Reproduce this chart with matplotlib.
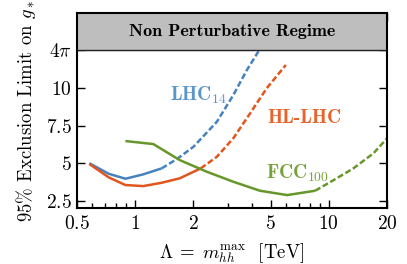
import numpy as np
import matplotlib
matplotlib.use('Agg')
import matplotlib.pyplot as plt
from matplotlib.ticker import FixedLocator, FixedFormatter, NullFormatter

plt.rcParams['font.family'] = ['cmr10']
plt.rcParams['mathtext.fontset'] = 'cm'
plt.rcParams['axes.formatter.use_mathtext'] = True

# LHC 14 TeV
lhc_x_solid = [0.58, 0.73, 0.89, 1.10, 1.37]
lhc_y_solid = [5.00, 4.30, 3.97, 4.26, 4.66]
lhc_x_dash = [1.37, 1.65, 2.00, 2.64, 3.21, 3.77, 4.45]
lhc_y_dash = [4.66, 5.30, 6.10, 7.76, 9.54, 11.20, 12.70]

# HL-LHC
hl_x_solid = [0.58, 0.73, 0.89, 1.10, 1.37, 1.70, 2.18]
hl_y_solid = [4.95, 4.06, 3.55, 3.48, 3.70, 4.00, 4.66]
hl_x_dash = [2.18, 2.64, 3.21, 3.92, 4.78, 6.00]
hl_y_dash = [4.66, 5.43, 6.66, 8.32, 10.00, 11.55]

# FCC 100 TeV
fcc_x_solid = [0.89, 1.24, 1.70, 2.34, 3.21, 4.41, 6.10, 8.50]
fcc_y_solid = [6.48, 6.28, 5.21, 4.44, 3.77, 3.17, 2.88, 3.17]
fcc_x_dash = [8.50, 10.6, 13.4, 17.0, 20.0]
fcc_y_dash = [3.17, 3.88, 4.66, 5.66, 6.66]

xticks = [0.5, 1, 2, 5, 10, 20]
xticklabels = ['$0.5$', '$1$', '$2$', '$5$', '$10$', '$20$']
yticks = [2.5, 5, 7.5, 10, 4 * np.pi]
yticklabels = ['$2.5$', '$5$', '$7.5$', '$10$', r'$4\pi$']

c_lhc = '#4682be'
c_hl = '#e2551c'
c_fcc = '#67962a'

fig = plt.figure(figsize=(4.07, 2.64), dpi=100)
ax = fig.add_axes([0.189, 0.211, 0.762, 0.739])

ax.axhspan(4 * np.pi, 15, color='#bebebe', zorder=3)
ax.axhline(4 * np.pi, color='#222222', lw=1.0, zorder=3)
ax.text(np.sqrt(0.5 * 20), 13.8, 'Non Perturbative Regime', family='cmb10',
        fontsize=13, ha='center', va='center', zorder=4)

lw = 1.8
dash = (0, (2.4, 1.1))
ax.plot(lhc_x_solid, lhc_y_solid, color=c_lhc, lw=lw, solid_capstyle='butt')
ax.plot(lhc_x_dash, lhc_y_dash, color=c_lhc, lw=lw, ls=dash)
ax.plot(hl_x_solid, hl_y_solid, color=c_hl, lw=lw, solid_capstyle='butt')
ax.plot(hl_x_dash, hl_y_dash, color=c_hl, lw=lw, ls=dash)
ax.plot(fcc_x_solid, fcc_y_solid, color=c_fcc, lw=lw, solid_capstyle='butt')
ax.plot(fcc_x_dash, fcc_y_dash, color=c_fcc, lw=lw, ls=dash)

ax.text(2.12, 9.54, r'$\mathbf{LHC}_{14}$', color='#5b95cc', fontsize=14,
        ha='center', va='center')
ax.text(7.5, 8.0, 'HL-LHC', family='cmb10', color='#e8622a', fontsize=14,
        ha='center', va='center')
ax.text(6.9, 4.33, r'$\mathbf{FCC}_{100}$', color='#78a23a', fontsize=14,
        ha='center', va='center')

ax.set_xscale('log')
ax.set_xlim(0.5, 20)
ax.set_ylim(2, 15)
ax.xaxis.set_major_locator(FixedLocator(xticks))
ax.xaxis.set_major_formatter(FixedFormatter(xticklabels))
ax.xaxis.set_minor_formatter(NullFormatter())
ax.yaxis.set_major_locator(FixedLocator(yticks))
ax.yaxis.set_major_formatter(FixedFormatter(yticklabels))
ax.tick_params(which='both', direction='in', top=True, right=True, labelsize=14)
ax.tick_params(which='major', length=6, width=1)
ax.tick_params(which='minor', length=3.5, width=1)
ax.tick_params(axis='x', pad=5)
for s in ax.spines.values():
    s.set_linewidth(1.5)
    s.set_zorder(5)

ax.set_xlabel(r'$\Lambda\;=\;m_{hh}^{\rm max}$  [TeV]', fontsize=13.5, labelpad=6)
ax.set_ylabel(r'95$\%$ Exclusion Limit on $g_*$', fontsize=13.5, labelpad=6)

fig.savefig('out.png', dpi=100)
